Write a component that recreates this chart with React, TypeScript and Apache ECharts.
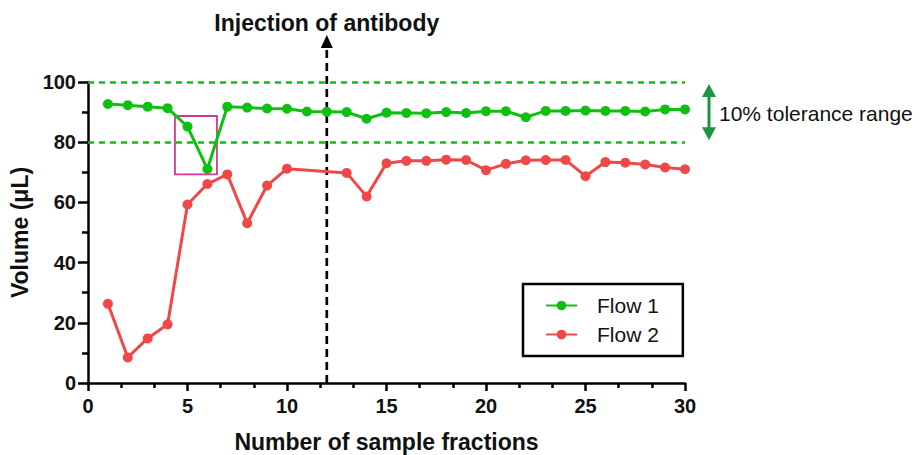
import React, { useEffect, useRef } from "react";
import * as echarts from "echarts";

const fractions = [1, 2, 3, 4, 5, 6, 7, 8, 9, 10, 11, 12, 13, 14, 15, 16, 17, 18, 19, 20, 21, 22, 23, 24, 25, 26, 27, 28, 29, 30];
const flow1 = [92.7, 92.3, 91.8, 91.3, 85.2, 71.1, 91.8, 91.5, 91.2, 91.1, 90.2, 90.1, 90.0, 87.8, 89.8, 89.7, 89.6, 90.0, 89.7, 90.3, 90.3, 88.3, 90.4, 90.4, 90.5, 90.4, 90.4, 90.2, 90.9, 90.9];
const flow2: (number | null)[] = [26.3, 8.5, 14.8, 19.5, 59.3, 66.1, 69.3, 53.1, 65.6, 71.2, null, null, 69.8, 62.0, 73.0, 73.8, 73.8, 74.2, 74.1, 70.7, 72.8, 74.0, 74.1, 74.1, 68.7, 73.4, 73.2, 72.6, 71.6, 71.0];
const seriesNames = ["Flow 1", "Flow 2"];
const toleranceLines = [100, 80];
const injectionFraction = 12;
const highlightBox = { x0: 4.37, y0: 88.7, x1: 6.48, y1: 69.3 };
const xTicks = { min: 0, max: 30, interval: 5 };
const yTicks = { min: 0, max: 100, interval: 20 };

const GREEN = "#10c010";
const RED = "#f04848";
const DARK_GREEN = "#1a9645";
const FONT = "'Liberation Sans', Arial, sans-serif";

export default function App() {
  const ref = useRef<HTMLDivElement>(null);
  useEffect(() => {
    document.body.style.margin = "0";
    if (!ref.current) return;
    const chart = echarts.init(ref.current, undefined, { renderer: "svg" });
    const option: any = {
      animation: false,
      backgroundColor: "#ffffff",
      grid: { left: 88, right: 235, top: 82, bottom: 72, containLabel: false, outerBoundsMode: "none" },
      xAxis: {
        type: "value",
        min: xTicks.min,
        max: xTicks.max,
        interval: xTicks.interval,
        name: "Number of sample fractions",
        nameLocation: "middle",
        nameGap: 47,
        nameTextStyle: { fontFamily: FONT, fontSize: 23, fontWeight: "bold", color: "#111" },
        axisLine: { lineStyle: { color: "#000", width: 2.5 } },
        axisTick: { show: true, length: 8, lineStyle: { color: "#000", width: 2.5 } },
        minorTick: { show: true, splitNumber: 3, length: 5, lineStyle: { color: "#000", width: 2.5 } },
        axisLabel: { margin: 13, fontFamily: FONT, fontSize: 20, fontWeight: "bold", color: "#111" },
        splitLine: { show: false },
      },
      yAxis: {
        type: "value",
        min: yTicks.min,
        max: yTicks.max,
        interval: yTicks.interval,
        name: "Volume (μL)",
        nameLocation: "middle",
        nameGap: 54,
        nameTextStyle: { fontFamily: FONT, fontSize: 23, fontWeight: "bold", color: "#111" },
        axisLine: { show: true, lineStyle: { color: "#000", width: 2.5 } },
        axisTick: { show: true, length: 10, lineStyle: { color: "#000", width: 2.5 } },
        minorTick: { show: true, splitNumber: 2, length: 6, lineStyle: { color: "#000", width: 2.5 } },
        axisLabel: { margin: 12, fontFamily: FONT, fontSize: 20, fontWeight: "bold", color: "#111" },
        splitLine: { show: false },
      },
      legend: {
        data: seriesNames,
        orient: "vertical",
        left: 523,
        top: 284,
        itemWidth: 31,
        itemHeight: 12,
        itemGap: 8,
        padding: [11, 24, 11, 22],
        borderColor: "#000",
        borderWidth: 2.5,
        backgroundColor: "#fff",
        textStyle: { fontFamily: FONT, fontSize: 21, color: "#111", padding: [0, 0, 0, 15] },
      },
      series: [
        {
          name: seriesNames[0],
          type: "line",
          data: fractions.map((f, i) => [f, flow1[i]]),
          symbol: "circle",
          symbolSize: 10,
          color: GREEN,
          lineStyle: { width: 3, color: GREEN },
          itemStyle: { color: GREEN },
          z: 4,
          markLine: {
            silent: true,
            symbol: "none",
            label: { show: false },
            lineStyle: { color: GREEN, width: 2.5, type: [6, 5] },
            data: toleranceLines.map((v) => ({ yAxis: v })),
          },
          markArea: {
            silent: true,
            itemStyle: { color: "rgba(0,0,0,0)", borderColor: "#d6378f", borderWidth: 1.8 },
            data: [[{ coord: [highlightBox.x0, highlightBox.y0] }, { coord: [highlightBox.x1, highlightBox.y1] }]],
          },
        },
        {
          name: seriesNames[1],
          type: "line",
          data: fractions.map((f, i) => [f, flow2[i]]),
          connectNulls: true,
          symbol: "circle",
          symbolSize: 10,
          color: RED,
          lineStyle: { width: 3, color: RED },
          itemStyle: { color: RED },
          z: 3,
        },
      ],
    };
    chart.setOption(option);

    const pBottom = chart.convertToPixel({ xAxisIndex: 0, yAxisIndex: 0 }, [injectionFraction, yTicks.min]) as number[];
    const pTop = chart.convertToPixel({ xAxisIndex: 0, yAxisIndex: 0 }, [xTicks.max, toleranceLines[0]]) as number[];
    const pLow = chart.convertToPixel({ xAxisIndex: 0, yAxisIndex: 0 }, [xTicks.max, toleranceLines[1]]) as number[];
    const ax = pBottom[0];
    const arrowTip = 35;
    const headH = 13;
    const tx = pTop[0] + 24;
    const tTop = pTop[1] + 2;
    const tBot = pLow[1] - 2;
    chart.setOption({
      graphic: [
        {
          type: "line",
          z: 1,
          shape: { x1: ax, y1: pBottom[1], x2: ax, y2: arrowTip + headH - 1 },
          style: { stroke: "#000", lineWidth: 2.7, lineDash: [8, 5] },
        },
        {
          type: "polygon",
          z: 1,
          shape: { points: [[ax, arrowTip], [ax - 6, arrowTip + headH], [ax + 6, arrowTip + headH]] },
          style: { fill: "#000" },
        },
        {
          type: "text",
          x: ax,
          y: 23,
          style: {
            text: "Injection of antibody",
            fontFamily: FONT,
            fontSize: 23,
            fontWeight: "bold",
            fill: "#111",
            align: "center",
            verticalAlign: "middle",
          },
        },
        {
          type: "line",
          shape: { x1: tx, y1: tTop + 10, x2: tx, y2: tBot - 10 },
          style: { stroke: DARK_GREEN, lineWidth: 3 },
        },
        {
          type: "polygon",
          shape: { points: [[tx, tTop], [tx - 7, tTop + 13], [tx + 7, tTop + 13]] },
          style: { fill: DARK_GREEN },
        },
        {
          type: "polygon",
          shape: { points: [[tx, tBot], [tx - 7, tBot - 13], [tx + 7, tBot - 13]] },
          style: { fill: DARK_GREEN },
        },
        {
          type: "text",
          x: tx + 10,
          y: (tTop + tBot) / 2 + 1,
          style: {
            text: "10% tolerance range",
            fontFamily: FONT,
            fontSize: 21,
            fill: "#111",
            align: "left",
            verticalAlign: "middle",
          },
        },
      ],
    });

    return () => chart.dispose();
  }, []);
  return <div ref={ref} style={{ width: 920, height: 455 }} />;
}
